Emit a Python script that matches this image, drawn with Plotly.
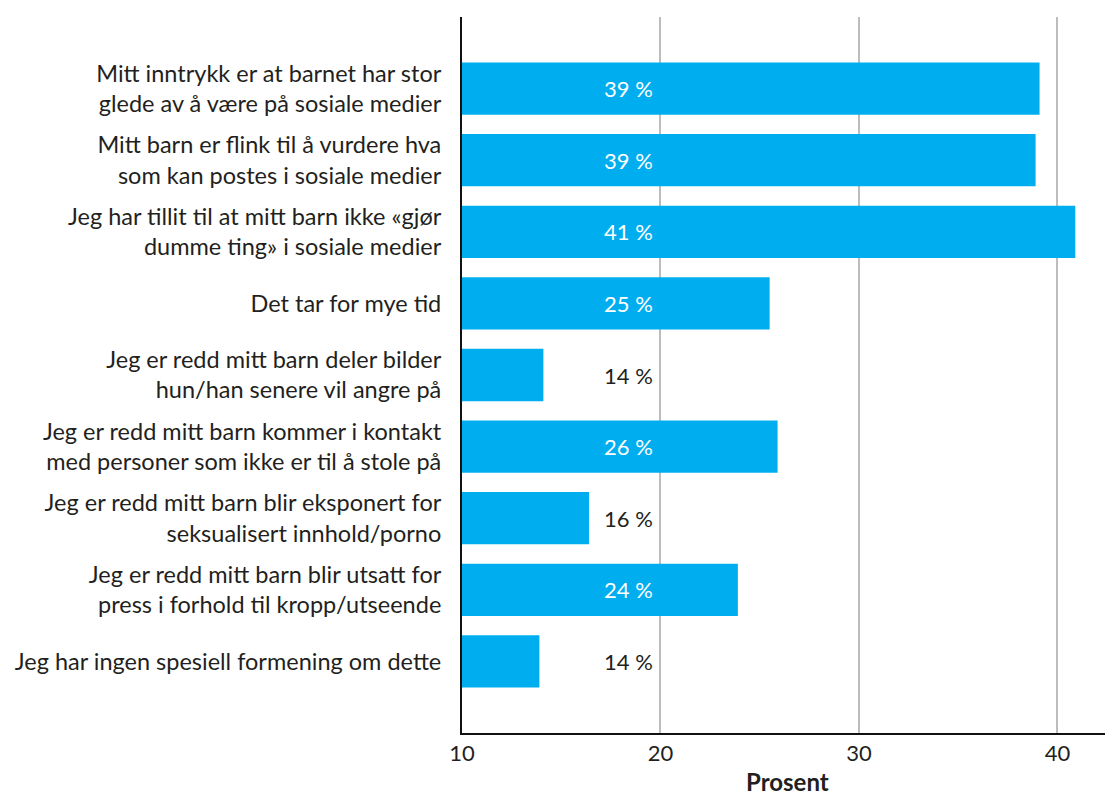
import plotly.graph_objects as go

# Svaralternativer (kategorier) og andel i prosent
kategorier = [
    "Mitt inntrykk er at barnet har stor<br>glede av å være på sosiale medier",
    "Mitt barn er flink til å vurdere hva<br>som kan postes i sosiale medier",
    "Jeg har tillit til at mitt barn ikke «gjør<br>dumme ting» i sosiale medier",
    "Det tar for mye tid",
    "Jeg er redd mitt barn deler bilder<br>hun/han senere vil angre på",
    "Jeg er redd mitt barn kommer i kontakt<br>med personer som ikke er til å stole på",
    "Jeg er redd mitt barn blir eksponert for<br>seksualisert innhold/porno",
    "Jeg er redd mitt barn blir utsatt for<br>press i forhold til kropp/utseende",
    "Jeg har ingen spesiell formening om dette",
]
verdier = [39.1, 38.9, 40.9, 25.5, 14.1, 25.9, 16.4, 23.9, 13.9]
etiketter = ["39 %", "39 %", "41 %", "25 %", "14 %", "26 %", "16 %", "24 %", "14 %"]
x_ticks = [10, 20, 30, 40]

FONT = "Lato, 'DejaVu Sans', sans-serif"
BLA = "#00AEEF"
TEKST = "#231F20"
LABEL_X = 19.7

pos = list(range(len(kategorier)))

fig = go.Figure()
fig.add_trace(go.Bar(
    y=pos, x=[v - 10 for v in verdier], base=10, orientation="h",
    marker=dict(color=BLA, line=dict(width=0)),
    width=0.73, hoverinfo="skip",
))

for p, v, t in zip(pos, verdier, etiketter):
    fig.add_annotation(
        x=LABEL_X, y=p, text=t, showarrow=False, xanchor="right",
        font=dict(family=FONT, size=22, color="white" if v > LABEL_X else TEKST),
    )

# aksetittel som annotasjon for å styre plasseringen
fig.add_annotation(
    x=0.5, y=0, xref="paper", yref="paper", yshift=-48,
    text="<b>Prosent</b>", showarrow=False, yanchor="middle",
    font=dict(family=FONT, size=24, color=TEKST),
)

# body har 8px marg, så figuren gjøres litt mindre
fig.update_layout(
    width=1105, height=790,
    margin=dict(l=454, r=0, t=9, b=65),
    plot_bgcolor="white", paper_bgcolor="white",
    showlegend=False,
    font=dict(family=FONT, color=TEKST),
    xaxis=dict(
        range=[10, 42.8], tickvals=x_ticks, ticks="", automargin=False,
        showgrid=True, gridcolor="#BDBDBD", gridwidth=1.5,
        zeroline=False, showline=True, linecolor="#111", linewidth=2,
        tickfont=dict(size=22, color=TEKST),
    ),
    yaxis=dict(
        range=[9, -1], tickvals=pos, ticktext=kategorier, automargin=False,
        showgrid=False, zeroline=False, showline=True, linecolor="#111", linewidth=2,
        ticks="", ticklabelstandoff=14,
        tickfont=dict(size=23.5, color=TEKST),
    ),
)

fig.write_html("out.html")
